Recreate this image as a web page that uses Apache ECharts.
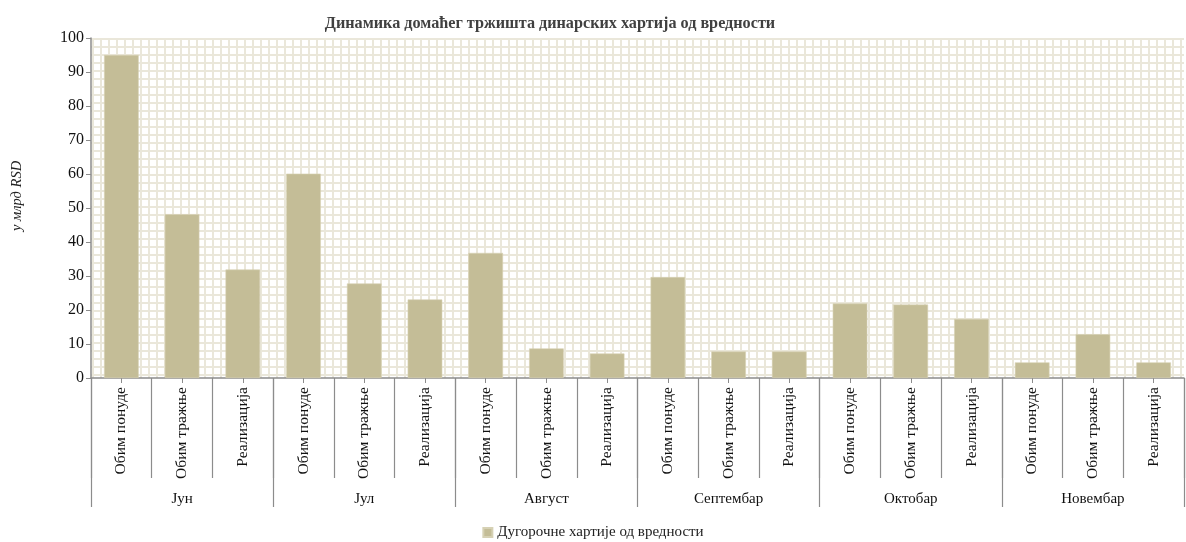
<!DOCTYPE html>
<html>
<head>
<meta charset="utf-8">
<script src="https://cdn.jsdelivr.net/npm/echarts@6/dist/echarts.min.js"></script>
<style>
  html, body { margin: 0; padding: 0; background: #fff; }
  #chart { width: 1186px; height: 542px; }
</style>
</head>
<body>
<div id="chart"></div>
<script>
const months = ['Јун', 'Јул', 'Август', 'Септембар', 'Октобар', 'Новембар']
const kinds = ['Обим понуде', 'Обим тражње', 'Реализација']
const categories = months.flatMap(() => kinds)
const longTerm = [
  95, 48.2, 31.9,
  60.1, 27.8, 23.1,
  36.8, 8.7, 7.2,
  29.7, 7.8, 7.8,
  21.9, 21.6, 17.4,
  4.6, 12.9, 4.6
]
const yTicks = [0, 10, 20, 30, 40, 50, 60, 70, 80, 90, 100]

const serif = '"Liberation Serif", "Times New Roman", serif'

// Excel-style "small grid" fill for the plot area
function gridPattern() {
  const c = document.createElement('canvas')
  c.width = 8
  c.height = 8
  const ctx = c.getContext('2d')
  ctx.fillStyle = '#ffffff'
  ctx.fillRect(0, 0, 8, 8)
  ctx.fillStyle = '#EAE7DA'
  ctx.fillRect(0, 6, 8, 2)
  ctx.fillRect(4, 0, 2, 8)
  return { image: c, repeat: 'repeat' }
}

const chart = echarts.init(document.getElementById('chart'))

chart.setOption({
  animation: false,
  title: {
    text: 'Динамика домаћег тржишта динарских хартија од вредности',
    left: 545,
    textAlign: 'center',
    top: 11,
    textStyle: { fontFamily: serif, fontSize: 16.2, fontWeight: 'bold', color: '#404040' }
  },
  legend: {
    data: ['Дугорочне хартије од вредности'],
    top: 520,
    left: 'center',
    icon: 'rect',
    itemWidth: 9,
    itemHeight: 9,
    itemGap: 3,
    textStyle: { fontFamily: serif, fontSize: 15, color: '#222' }
  },
  grid: {
    left: 91,
    right: 2,
    top: 38,
    bottom: 164,
    show: true,
    borderWidth: 0,
    backgroundColor: gridPattern()
  },
  xAxis: [
    {
      type: 'category',
      data: categories,
      position: 'bottom',
      axisLine: { lineStyle: { color: '#8c8c8c', width: 1.5 } },
      axisTick: { show: true, interval: 0, length: 100, lineStyle: { color: '#8c8c8c', width: 1.2 } },
      axisLabel: {
        interval: 0,
        rotate: 90,
        margin: 9,
        fontFamily: serif,
        fontSize: 15.6,
        color: '#111'
      }
    },
    {
      type: 'category',
      data: categories,
      position: 'bottom',
      axisLine: { show: false },
      axisTick: { show: true, alignWithLabel: true, interval: 0, length: 5, lineStyle: { color: '#8c8c8c' } },
      axisLabel: { show: false }
    },
    {
      type: 'category',
      data: months,
      position: 'bottom',
      axisLine: { show: false },
      axisTick: { show: true, interval: 0, length: 129, lineStyle: { color: '#8c8c8c', width: 1.2 } },
      axisLabel: {
        interval: 0,
        margin: 114,
        fontFamily: serif,
        fontSize: 15,
        color: '#111'
      }
    }
  ],
  yAxis: {
    type: 'value',
    min: yTicks[0],
    max: yTicks[yTicks.length - 1],
    interval: 10,
    name: 'у млрд RSD',
    nameLocation: 'middle',
    nameGap: 66,
    nameTextStyle: { fontFamily: serif, fontSize: 14.5, fontStyle: 'italic', color: '#222', padding: [0, 0, 0, 24] },
    axisLine: { show: true, lineStyle: { color: '#8c8c8c', width: 1.5 } },
    axisTick: { show: true, length: 5, lineStyle: { color: '#8c8c8c' } },
    splitLine: { show: false },
    axisLabel: { margin: 7, fontFamily: serif, fontSize: 16, color: '#111' }
  },
  series: [
    {
      name: 'Дугорочне хартије од вредности',
      type: 'bar',
      data: longTerm,
      barWidth: '57%',
      itemStyle: { color: '#C4BD97', borderColor: '#D6D1B4', borderWidth: 0.6 }
    }
  ]
})
</script>
</body>
</html>
